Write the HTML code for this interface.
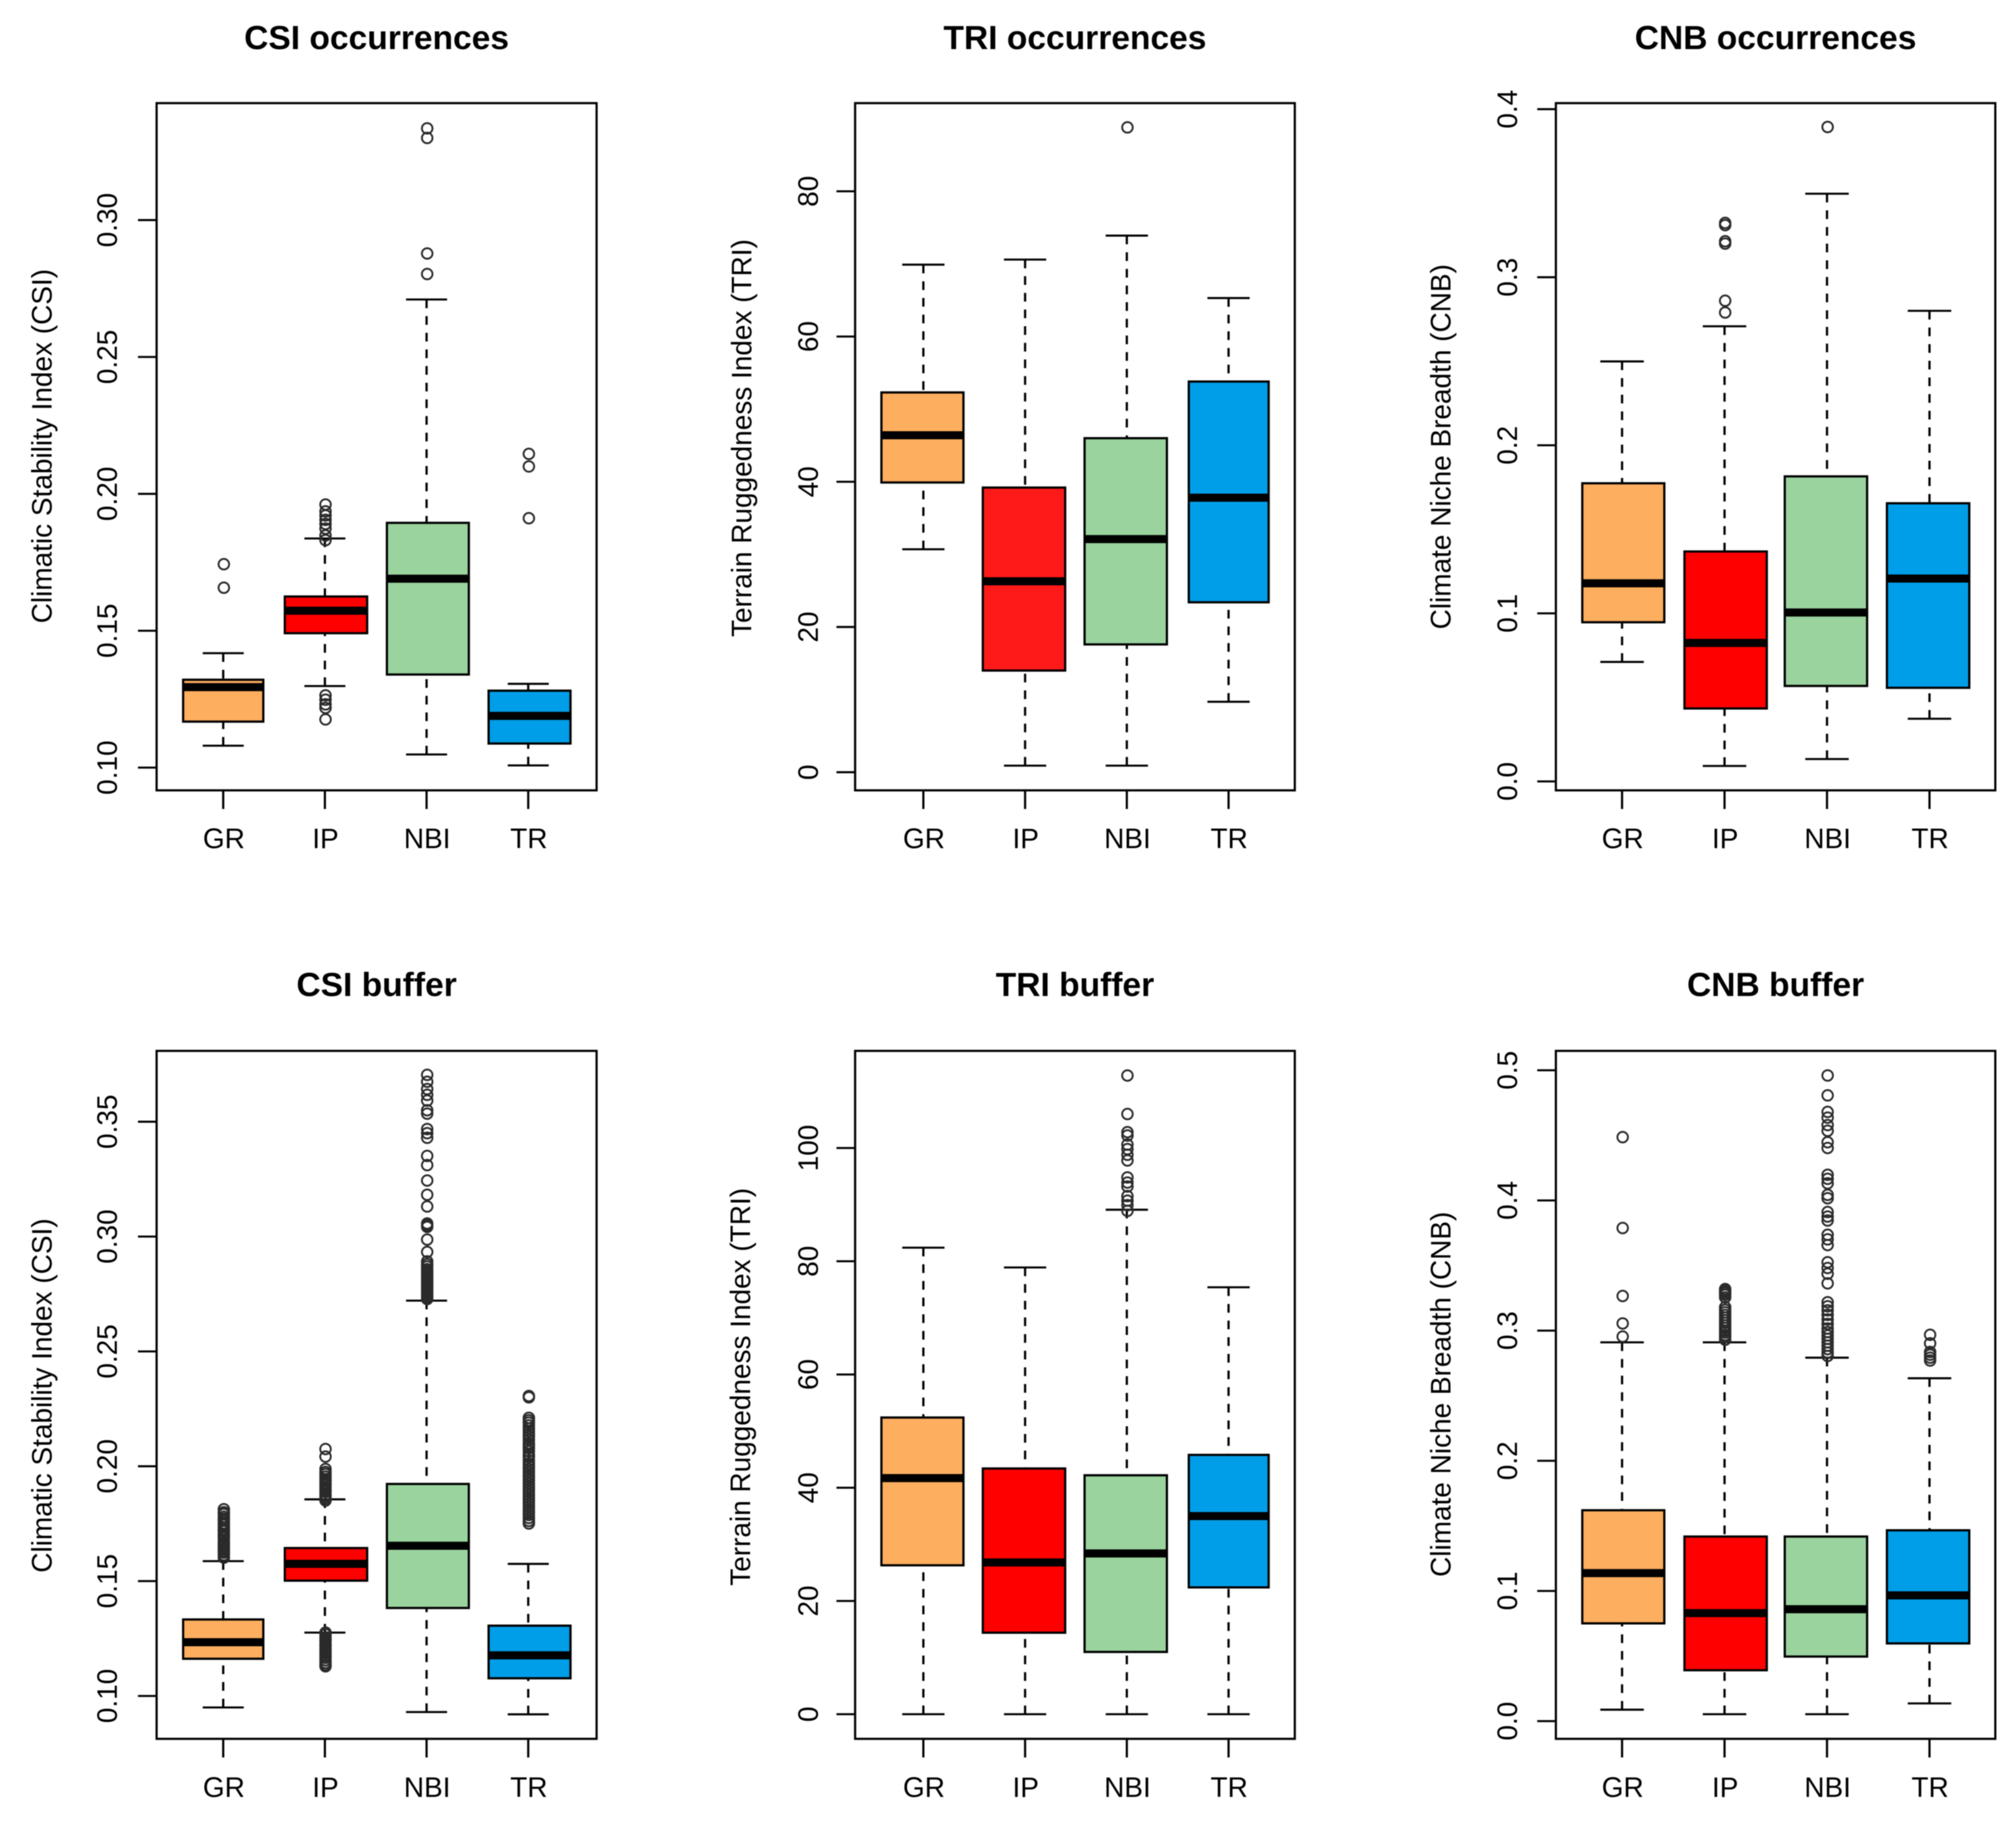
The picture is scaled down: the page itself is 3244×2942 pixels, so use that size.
<!DOCTYPE html>
<html lang="en">
<head>
<meta charset="utf-8">
<title>Boxplots of CSI, TRI and CNB</title>
<style>
html,body{margin:0;padding:0;background:#fff;}
svg{display:block;filter:blur(0.7px);}
text{font-family:"Liberation Sans",Arial,sans-serif;fill:#000;}
</style>
</head>
<body>
<svg id="chart" xmlns="http://www.w3.org/2000/svg" width="3244" height="2942" viewBox="0 0 3244 2942"></svg>
<script>
const categories = ['GR', 'IP', 'NBI', 'TR'];

const csiOccTicks = [0.10, 0.15, 0.20, 0.25, 0.30];
const csiOccTickLabels = ['0.10', '0.15', '0.20', '0.25', '0.30'];
const csiOccLow = [0.1080, 0.1298, 0.1048, 0.1008];
const csiOccQ1 = [0.1168, 0.1491, 0.1340, 0.1088];
const csiOccMedian = [0.1294, 0.1573, 0.1690, 0.1189];
const csiOccQ3 = [0.1321, 0.1625, 0.1894, 0.1281];
const csiOccHigh = [0.1418, 0.1837, 0.2710, 0.1306];
const csiOccOutGR = [0.1743, 0.1657];
const csiOccOutIP = [0.1961, 0.1936, 0.1921, 0.1905, 0.1890, 0.1873, 0.1848, 0.1831, 0.1264, 0.1248, 0.1231, 0.1218, 0.1176];
const csiOccOutNBI = [0.3335, 0.3300, 0.2878, 0.2803];
const csiOccOutTR = [0.2146, 0.2100, 0.1911];

const triOccTicks = [0, 20, 40, 60, 80];
const triOccTickLabels = ['0', '20', '40', '60', '80'];
const triOccLow = [30.7, 0.9, 0.9, 9.7];
const triOccQ1 = [39.9, 14.0, 17.6, 23.4];
const triOccMedian = [46.4, 26.3, 32.1, 37.8];
const triOccQ3 = [52.3, 39.2, 46.0, 53.8];
const triOccHigh = [69.9, 70.6, 73.9, 65.3];
const triOccOutGR = [];
const triOccOutIP = [];
const triOccOutNBI = [88.8];
const triOccOutTR = [];

const cnbOccTicks = [0.0, 0.1, 0.2, 0.3, 0.4];
const cnbOccTickLabels = ['0.0', '0.1', '0.2', '0.3', '0.4'];
const cnbOccLow = [0.0711, 0.0092, 0.0133, 0.0373];
const cnbOccQ1 = [0.0947, 0.0434, 0.0568, 0.0557];
const cnbOccMedian = [0.1179, 0.0824, 0.1005, 0.1207];
const cnbOccQ3 = [0.1774, 0.1368, 0.1815, 0.1655];
const cnbOccHigh = [0.2499, 0.2708, 0.3497, 0.2800];
const cnbOccOutGR = [];
const cnbOccOutIP = [0.3323, 0.3310, 0.3214, 0.3200, 0.2860, 0.2790];
const cnbOccOutNBI = [0.3894];
const cnbOccOutTR = [];

const csiBufTicks = [0.10, 0.15, 0.20, 0.25, 0.30, 0.35];
const csiBufTickLabels = ['0.10', '0.15', '0.20', '0.25', '0.30', '0.35'];
const csiBufLow = [0.0950, 0.1276, 0.0930, 0.0920];
const csiBufQ1 = [0.1162, 0.1502, 0.1383, 0.1077];
const csiBufMedian = [0.1234, 0.1575, 0.1654, 0.1177];
const csiBufQ3 = [0.1333, 0.1644, 0.1923, 0.1306];
const csiBufHigh = [0.1587, 0.1856, 0.2721, 0.1575];
const csiBufOutGR = [0.1813, 0.1800, 0.1792, 0.1780, 0.1771, 0.1763, 0.1752, 0.1745, 0.1734, 0.1725, 0.1718, 0.1706, 0.1698, 0.1690, 0.1679, 0.1668, 0.1660, 0.1651, 0.1640, 0.1632, 0.1624, 0.1613, 0.1602];
const csiBufOutIP = [0.2075, 0.2042, 0.1988, 0.1975, 0.1966, 0.1955, 0.1944, 0.1937, 0.1925, 0.1918, 0.1906, 0.1895, 0.1888, 0.1876, 0.1868, 0.1859, 0.1851, 0.1276, 0.1268, 0.1255, 0.1246, 0.1238, 0.1226, 0.1217, 0.1205, 0.1196, 0.1188, 0.1175, 0.1166, 0.1155, 0.1144, 0.1135, 0.1129];
const csiBufOutNBI = [0.3704, 0.3674, 0.3642, 0.3617, 0.3592, 0.3550, 0.3535, 0.3468, 0.3450, 0.3430, 0.3351, 0.3311, 0.3244, 0.3182, 0.3131, 0.3057, 0.3049, 0.3042, 0.2987, 0.2933, 0.2892, 0.2880, 0.2870, 0.2858, 0.2850, 0.2842, 0.2835, 0.2826, 0.2818, 0.2810, 0.2802, 0.2795, 0.2788, 0.2780, 0.2772, 0.2765, 0.2758, 0.2750, 0.2742, 0.2735, 0.2728];
const csiBufOutTR = [0.2306, 0.2300, 0.2211, 0.2200, 0.2190, 0.2178, 0.2165, 0.2152, 0.2140, 0.2128, 0.2115, 0.2100, 0.2090, 0.2078, 0.2065, 0.2050, 0.2040, 0.2025, 0.2012, 0.2000, 0.1988, 0.1975, 0.1962, 0.1950, 0.1938, 0.1925, 0.1912, 0.1900, 0.1888, 0.1875, 0.1862, 0.1850, 0.1838, 0.1825, 0.1812, 0.1800, 0.1788, 0.1775, 0.1762, 0.1751];

const triBufTicks = [0, 20, 40, 60, 80, 100];
const triBufTickLabels = ['0', '20', '40', '60', '80', '100'];
const triBufLow = [0, 0, 0, 0];
const triBufQ1 = [26.3, 14.4, 11.0, 22.4];
const triBufMedian = [41.7, 26.8, 28.4, 35.0];
const triBufQ3 = [52.4, 43.4, 42.2, 45.8];
const triBufHigh = [82.4, 78.9, 89.1, 75.4];
const triBufOutGR = [];
const triBufOutIP = [];
const triBufOutNBI = [112.8, 106.0, 102.8, 102.2, 100.6, 99.8, 98.8, 97.8, 94.8, 93.9, 93.2, 91.5, 90.7, 89.9, 88.9];
const triBufOutTR = [];

const cnbBufTicks = [0.0, 0.1, 0.2, 0.3, 0.4, 0.5];
const cnbBufTickLabels = ['0.0', '0.1', '0.2', '0.3', '0.4', '0.5'];
const cnbBufLow = [0.0088, 0.0053, 0.0053, 0.0136];
const cnbBufQ1 = [0.0751, 0.0391, 0.0496, 0.0597];
const cnbBufMedian = [0.1137, 0.0830, 0.0860, 0.0966];
const cnbBufQ3 = [0.1620, 0.1418, 0.1418, 0.1466];
const cnbBufHigh = [0.2910, 0.2910, 0.2792, 0.2634];
const cnbBufOutGR = [0.4486, 0.3788, 0.3266, 0.3055, 0.2954];
const cnbBufOutIP = [0.3319, 0.3310, 0.3300, 0.3290, 0.3275, 0.3255, 0.3180, 0.3160, 0.3140, 0.3120, 0.3100, 0.3080, 0.3060, 0.3040, 0.3020, 0.3000, 0.2985, 0.2965, 0.2950, 0.2930];
const cnbBufOutNBI = [0.4960, 0.4807, 0.4680, 0.4636, 0.4579, 0.4535, 0.4447, 0.4403, 0.4197, 0.4166, 0.4131, 0.4043, 0.4017, 0.3911, 0.3876, 0.3846, 0.3736, 0.3701, 0.3657, 0.3525, 0.3481, 0.3437, 0.3363, 0.3218, 0.3187, 0.3156, 0.3121, 0.3086, 0.3051, 0.3016, 0.2989, 0.2963, 0.2937, 0.2910, 0.2884, 0.2858, 0.2831, 0.2805];
const cnbBufOutTR = [0.2968, 0.2902, 0.2836, 0.2815, 0.2792, 0.2770];

const boxColors = ['#fdae5f', '#ff0000', '#9ad39e', '#009ee8'];

const panels = [
  {id:'csi-occurrences', title:'CSI occurrences', ylabel:'Climatic Stability Index (CSI)', ticks:csiOccTicks, tickLabels:csiOccTickLabels, low:csiOccLow, q1:csiOccQ1, median:csiOccMedian, q3:csiOccQ3, high:csiOccHigh, outliers:[csiOccOutGR, csiOccOutIP, csiOccOutNBI, csiOccOutTR],
   frame:[252,166,960,1272], x0:359.2, dx:163.6, tA:[0.10,1235.4], tB:[0.30,354.2], tickLabelX:188, yLabelX:83, yLabelY:718, titleY:79, xLabelY:1365, capHalf:33, boxL:[-64.5,-64.5,-63.8,-63.8], boxR:[64.5,68,68,68], red:'#ff0000'},
  {id:'tri-occurrences', title:'TRI occurrences', ylabel:'Terrain Ruggedness Index (TRI)', ticks:triOccTicks, tickLabels:triOccTickLabels, low:triOccLow, q1:triOccQ1, median:triOccMedian, q3:triOccQ3, high:triOccHigh, outliers:[triOccOutGR, triOccOutIP, triOccOutNBI, triOccOutTR],
   frame:[1376,166,2083.5,1272], x0:1485.8, dx:163.7, tA:[0,1242.8], tB:[80,307.9], tickLabelX:1316, yLabelX:1209, yLabelY:705, titleY:79, xLabelY:1365, capHalf:34, boxL:[-67.5,-68,-68,-64], boxR:[64.5,64.5,64.5,64.5], red:'#ff1a1a'},
  {id:'cnb-occurrences', title:'CNB occurrences', ylabel:'Climate Niche Breadth (CNB)', ticks:cnbOccTicks, tickLabels:cnbOccTickLabels, low:cnbOccLow, q1:cnbOccQ1, median:cnbOccMedian, q3:cnbOccQ3, high:cnbOccHigh, outliers:[cnbOccOutGR, cnbOccOutIP, cnbOccOutNBI, cnbOccOutTR],
   frame:[2503.6,166,3210.7,1272], x0:2610.1, dx:164.9, tA:[0,1257.6], tB:[0.4,175.7], tickLabelX:2441, yLabelX:2334, yLabelY:719, titleY:79, xLabelY:1365, capHalf:35, boxL:[-64,-64.5,-68,-68.5], boxR:[68,68,64.5,64], red:'#ff0000'},
  {id:'csi-buffer', title:'CSI buffer', ylabel:'Climatic Stability Index (CSI)', ticks:csiBufTicks, tickLabels:csiBufTickLabels, low:csiBufLow, q1:csiBufQ1, median:csiBufMedian, q3:csiBufQ3, high:csiBufHigh, outliers:[csiBufOutGR, csiBufOutIP, csiBufOutNBI, csiBufOutTR],
   frame:[252,1691.3,960,2798.5], x0:359.2, dx:163.6, tA:[0.10,2729.5], tB:[0.35,1805.3], tickLabelX:188, yLabelX:83, yLabelY:2246, titleY:1603, xLabelY:2892, capHalf:33, boxL:[-64.5,-64.5,-63.8,-63.8], boxR:[64.5,68,68,68], red:'#ff0000'},
  {id:'tri-buffer', title:'TRI buffer', ylabel:'Terrain Ruggedness Index (TRI)', ticks:triBufTicks, tickLabels:triBufTickLabels, low:triBufLow, q1:triBufQ1, median:triBufMedian, q3:triBufQ3, high:triBufHigh, outliers:[triBufOutGR, triBufOutIP, triBufOutNBI, triBufOutTR],
   frame:[1376,1691.3,2083.5,2798.5], x0:1485.8, dx:163.7, tA:[0,2758.9], tB:[100,1847.6], tickLabelX:1316, yLabelX:1207, yLabelY:2232, titleY:1603, xLabelY:2892, capHalf:34, boxL:[-67.5,-68,-68,-64], boxR:[64.5,64.5,64.5,64.5], red:'#ff0000'},
  {id:'cnb-buffer', title:'CNB buffer', ylabel:'Climate Niche Breadth (CNB)', ticks:cnbBufTicks, tickLabels:cnbBufTickLabels, low:cnbBufLow, q1:cnbBufQ1, median:cnbBufMedian, q3:cnbBufQ3, high:cnbBufHigh, outliers:[cnbBufOutGR, cnbBufOutIP, cnbBufOutNBI, cnbBufOutTR],
   frame:[2503.6,1691.3,3210.7,2798.5], x0:2610.1, dx:164.9, tA:[0,2770], tB:[0.5,1722.5], tickLabelX:2441, yLabelX:2334, yLabelY:2244, titleY:1603, xLabelY:2892, capHalf:35, boxL:[-64,-64.5,-68,-68.5], boxR:[68,68,64.5,64], red:'#ff0000'}
];

const NS = 'http://www.w3.org/2000/svg';
const root = document.getElementById('chart');

function make(parent, tag, attrs) {
  const el = document.createElementNS(NS, tag);
  for (const key in attrs) el.setAttribute(key, attrs[key]);
  parent.appendChild(el);
  return el;
}

const background = make(root, 'rect', {x:0, y:0, width:3244, height:2942, fill:'#ffffff'});



panels.forEach(function (p) {
  const yScale = function (v) {
    return p.tA[1] + (v - p.tA[0]) * (p.tB[1] - p.tA[1]) / (p.tB[0] - p.tA[0]);
  };
  const xScale = function (i) {
    return p.x0 + i * p.dx;
  };

  const g = make(root, 'g', {});
  
  

  const title = make(g, 'text', {x:(p.frame[0] + p.frame[2]) / 2, y:p.titleY, 'text-anchor':'middle', 'font-size':54, 'font-weight':'bold', fill:'#000'});
  title.textContent = p.title;
  
  

  const yLabel = make(g, 'text', {x:0, y:0, 'text-anchor':'middle', 'font-size':45, transform:'translate(' + p.yLabelX + ',' + p.yLabelY + ') rotate(-90)'});
  yLabel.textContent = p.ylabel;
  
  

  p.ticks.forEach(function (t, k) {
    const yy = yScale(t);
    const tick = make(g, 'line', {x1:p.frame[0] - 30, x2:p.frame[0], y1:yy, y2:yy, stroke:'#000', 'stroke-width':3.3});
    
    
    const label = make(g, 'text', {x:0, y:0, 'text-anchor':'middle', 'font-size':45, transform:'translate(' + p.tickLabelX + ',' + yy + ') rotate(-90)'});
    label.textContent = p.tickLabels[k];
    
    
  });

  categories.forEach(function (cat, i) {
    const cx = xScale(i);
    const series = make(g, 'g', {});
    
    

    const upper = make(series, 'line', {x1:cx, x2:cx, y1:yScale(p.high[i]), y2:yScale(p.q3[i]), stroke:'#000', 'stroke-width':3.6, 'stroke-dasharray':'14 12.8'});
    
    
    const lower = make(series, 'line', {x1:cx, x2:cx, y1:yScale(p.low[i]), y2:yScale(p.q1[i]), stroke:'#000', 'stroke-width':3.6, 'stroke-dasharray':'14 12.8'});
    
    
    const capHi = make(series, 'line', {x1:cx - p.capHalf, x2:cx + p.capHalf, y1:yScale(p.high[i]), y2:yScale(p.high[i]), stroke:'#000', 'stroke-width':3.3});
    
    
    const capLo = make(series, 'line', {x1:cx - p.capHalf, x2:cx + p.capHalf, y1:yScale(p.low[i]), y2:yScale(p.low[i]), stroke:'#000', 'stroke-width':3.3});
    
    

    const left = cx + p.boxL[i];
    const right = cx + p.boxR[i];
    const fill = i === 1 ? p.red : boxColors[i];
    const box = make(series, 'rect', {x:left, y:yScale(p.q3[i]), width:right - left, height:yScale(p.q1[i]) - yScale(p.q3[i]), fill:fill, stroke:'#000', 'stroke-width':3.6});
    
    
    const median = make(series, 'line', {x1:left, x2:right, y1:yScale(p.median[i]), y2:yScale(p.median[i]), stroke:'#000', 'stroke-width':13});
    
    

    p.outliers[i].forEach(function (v) {
      const dot = make(series, 'circle', {cx:cx + 1, cy:yScale(v), r:8.5, fill:'none', stroke:'#2a2a2a', 'stroke-width':3});
      
      
    });

    const xTick = make(g, 'line', {x1:cx, x2:cx, y1:p.frame[3], y2:p.frame[3] + 30, stroke:'#000', 'stroke-width':3.5});
    
    
    const xLabel = make(g, 'text', {x:cx + 1, y:p.xLabelY, 'text-anchor':'middle', 'font-size':45});
    xLabel.textContent = cat;
    
    
  });

  const frame = make(g, 'rect', {x:p.frame[0], y:p.frame[1], width:p.frame[2] - p.frame[0], height:p.frame[3] - p.frame[1], fill:'none', stroke:'#000', 'stroke-width':3.5});
  
  
});
</script>
</body>
</html>
